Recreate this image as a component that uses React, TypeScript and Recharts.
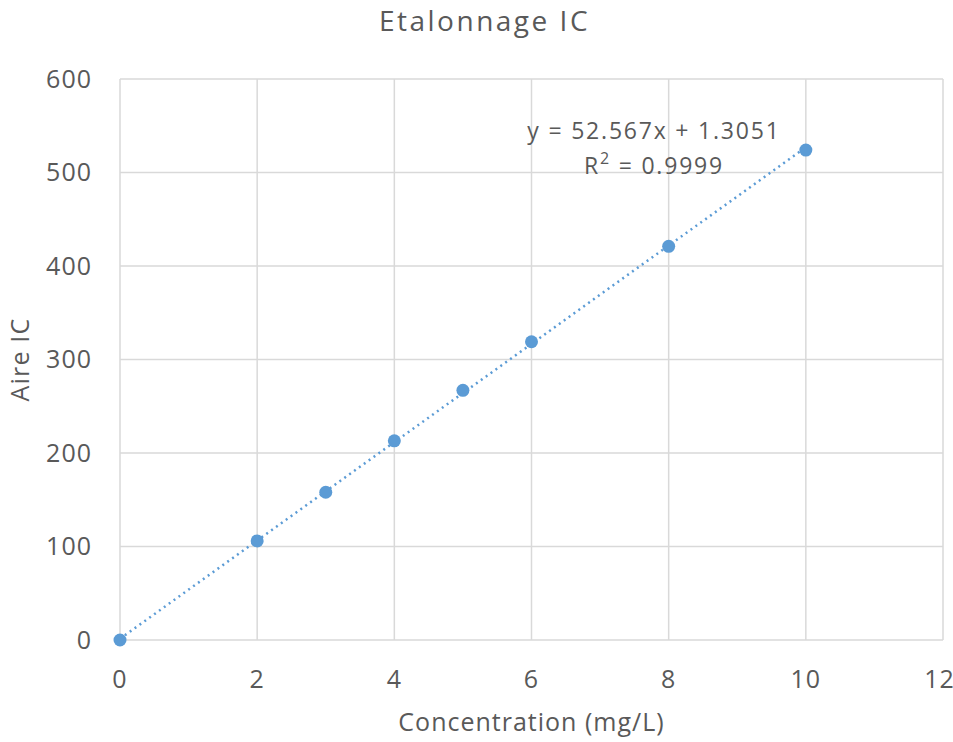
import { ScatterChart, Scatter, XAxis, YAxis, CartesianGrid, Label } from 'recharts';

const concentrations = [0, 2, 3, 4, 5, 6, 8, 10];
const aires = [0, 106, 158, 213, 267, 319, 421, 524];
const trendX = [0, 10];
const trendY = [1.3, 527.0];
const xTicks = [0, 2, 4, 6, 8, 10, 12];
const yTicks = [0, 100, 200, 300, 400, 500, 600];

const points = concentrations.map((x, i) => ({ x, y: aires[i] }));
const trend = trendX.map((x, i) => ({ x, y: trendY[i] }));

const FONT = '"Open Sans", sans-serif';
const TEXT = '#595959';
const BLUE = '#5b9bd5';

export default function App() {
  return (
    <div style={{ position: 'absolute', left: 0, top: 0, width: 953, height: 742, background: '#fff', fontFamily: FONT }}>
      <div style={{ position: 'absolute', top: 1, left: 8, width: 953, textAlign: 'center', fontSize: 28, letterSpacing: 2.5, color: TEXT }}>
        Etalonnage IC
      </div>
      <ScatterChart width={953} height={742} margin={{ top: 79, right: 10, bottom: 0, left: 0 }}>
        <CartesianGrid stroke="#d9d9d9" strokeWidth={1.5} />
        <XAxis
          type="number"
          dataKey="x"
          domain={[0, 12]}
          ticks={xTicks}
          height={102}
          axisLine={false}
          tickLine={false}
          tickMargin={24}
          tick={{ fill: TEXT, fontSize: 25, fontFamily: FONT, letterSpacing: 1 }}
        >
          <Label value="Concentration (mg/L)" position="insideBottom" offset={11} fill={TEXT} fontSize={25} fontFamily={FONT} letterSpacing={1} />
        </XAxis>
        <YAxis
          type="number"
          dataKey="y"
          domain={[0, 600]}
          ticks={yTicks}
          width={120}
          axisLine={false}
          tickLine={false}
          tickMargin={22}
          tick={{ fill: TEXT, fontSize: 25, fontFamily: FONT, letterSpacing: 1 }}
        >
          <Label value="Aire IC" angle={-90} position="insideLeft" offset={20} fill={TEXT} fontSize={25} fontFamily={FONT} letterSpacing={1.2} style={{ textAnchor: 'middle' }} />
        </YAxis>
        <Scatter
          data={trend}
          line={{ stroke: BLUE, strokeWidth: 2.5, strokeDasharray: '2 4' }}
          shape={() => <g />}
          isAnimationActive={false}
        />
        <Scatter data={points} fill={BLUE} shape={(p: any) => <circle cx={p.cx} cy={p.cy} r={6.5} fill={BLUE} />} isAnimationActive={false} />
      </ScatterChart>
      <div style={{ position: 'absolute', left: 504, top: 113, width: 300, textAlign: 'center', fontSize: 23, letterSpacing: 1.8, color: TEXT, lineHeight: '35px' }}>
        <div>y = 52.567x + 1.3051</div>
        <div>R<sup style={{ fontSize: 16, verticalAlign: 'top', lineHeight: '20px' }}>2</sup> = 0.9999</div>
      </div>
    </div>
  );
}
